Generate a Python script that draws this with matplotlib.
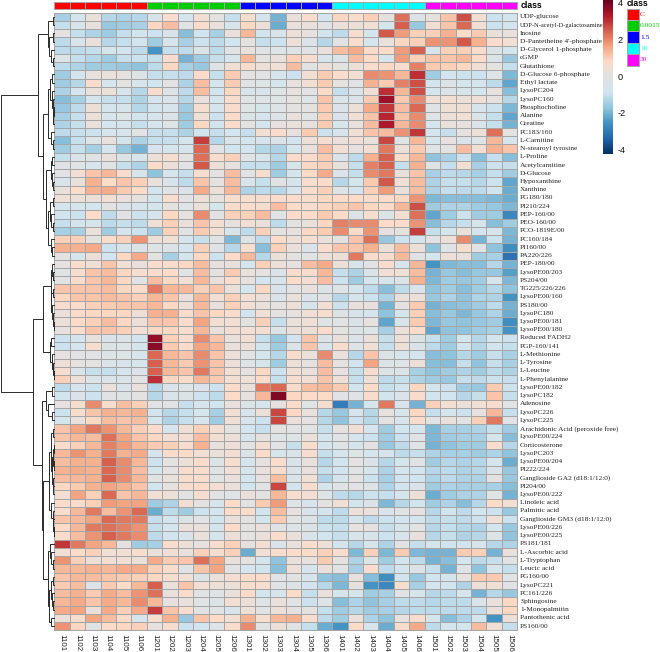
import matplotlib
matplotlib.use("Agg")
import matplotlib.pyplot as plt
from matplotlib.colors import LinearSegmentedColormap, ListedColormap
import numpy as np

row_labels = ["UDP-glucose","UDP-N-acetyl-D-galactosamine","Inosine","D-Pantetheine 4'-phosphate","D-Glycerol 1-phosphate","cGMP","Glutathione","D-Glucose 6-phosphate","Ethyl lactate","LysoPC204","LysoPC160","Phosphocholine","Alanine","Creatine","PC183/160","L-Carnitine","N-stearoyl tyrosine","L-Proline","Acetylcarnitine","D-Glucose","Hypoxanthine","Xanthine","PG180/180","PI210/224","PEP-160/00","PEO-160/00","PCO-1819E/00","PC160/184","PI160/00","PA220/226","PEP-180/00","LysoPE00/203","PS204/00","TG225/226/226","LysoPE00/160","PS180/00","LysoPC180","LysoPE00/181","LysoPE00/180","Reduced FADH2","PGP-160/141","L-Methionine","L-Tyrosine","L-Leucine","L-Phenylalanine","LysoPE00/182","LysoPC182","Adenosine","LysoPC226","LysoPC225","Arachidonic Acid (peroxide free)","LysoPE00/224","Corticosterone","LysoPC203","LysoPE00/204","PI222/224","Ganglioside GA2 (d18:1/12:0)","PI204/00","LysoPE00/222","Linoleic acid","Palmitic acid","Ganglioside GM3 (d18:1/12:0)","LysoPE00/226","LysoPE00/225","PS181/181","L-Ascorbic acid","L-Tryptophan","Leucic acid","PG160/00","LysoPC221","PC161/226","Sphingosine","1-Monopalmitin","Pantothenic acid","PS160/00"]
col_labels = ["1101","1102","1103","1104","1105","1106","1201","1202","1203","1204","1205","1206","1301","1302","1303","1304","1305","1306","1401","1402","1403","1404","1405","1406","1501","1502","1503","1504","1505","1506"]
class_names = ["C","0.0015","1.5","10","30"]
class_colors = ["#FF0000","#00CD00","#0000FF","#00FFFF","#FF00FF"]
col_class = [0]*6+[1]*6+[2]*6+[3]*6+[4]*6

values = [
[-1.4,-0.7,0.2,-1.2,-1.3,-1.2,-0.4,0.7,-0.7,0.5,0.0,-1.0,0.6,-0.7,-2.0,0.2,0.7,-0.7,0.9,0.6,1.0,0.1,2.3,-0.3,0.1,1.2,2.7,0.5,-0.9,-0.7],
[-1.0,-0.5,0.2,-1.6,-1.5,-1.4,0.9,1.3,-0.1,0.7,0.2,-0.5,0.9,0.3,-2.1,0.2,0.2,-0.1,0.3,0.3,0.4,-0.6,2.5,-1.6,0.5,1.2,2.4,0.5,-0.9,-0.8],
[0.0,-1.0,-1.3,-1.5,-1.0,-0.8,-0.9,-0.4,-1.8,-0.8,-1.4,0.2,1.4,-0.8,-0.4,0.3,0.1,-0.8,-1.1,0.6,-0.7,2.6,1.8,1.0,1.0,1.5,0.8,1.1,0.2,0.2],
[-1.1,-0.5,0.2,-1.2,-1.0,-0.8,-1.5,-0.6,-1.4,-0.9,-1.1,-0.8,0.1,-1.0,-0.9,0.3,-0.4,-1.2,-0.1,0.7,-0.7,0.2,0.9,1.0,1.9,1.9,2.6,1.5,0.7,0.5],
[-1.1,-1.1,-1.0,-0.6,-0.8,-1.1,-2.5,-1.0,-1.1,-0.3,-1.1,-0.1,0.2,-0.1,-0.2,-0.2,-0.2,0.2,1.3,1.6,0.8,0.8,1.8,2.5,-0.6,1.0,1.0,0.7,-0.3,-0.6],
[-0.2,-1.0,-1.2,-1.5,-1.0,-0.9,-1.0,0.7,-2.0,-1.5,-1.0,-0.6,1.4,0.0,0.2,1.0,0.6,-0.5,-0.3,1.3,0.8,-0.6,1.8,1.0,1.2,1.2,1.4,0.8,-0.3,-1.6],
[-1.1,-1.3,-1.5,-1.5,-1.6,-1.7,-1.1,0.9,-1.4,-1.6,-0.2,0.4,0.7,0.3,0.4,1.3,-0.1,0.3,0.0,0.3,0.6,0.9,0.6,2.1,1.1,1.0,0.9,0.4,0.0,-1.0],
[-1.5,-0.8,0.1,0.2,0.1,-0.3,-1.0,-1.0,-1.1,0.8,-1.0,1.1,0.0,-0.1,-0.6,-0.9,0.5,1.1,0.7,0.5,2.0,1.9,1.4,3.1,-1.5,-0.8,-0.9,-0.9,-0.2,-1.9],
[-1.5,-1.2,0.7,-0.7,0.0,-0.6,-0.8,-0.1,-1.3,1.3,-0.7,1.1,-0.1,-0.2,-0.6,0.1,0.5,1.1,0.1,-0.1,1.5,1.1,2.1,2.7,-0.8,-0.3,-0.7,-0.7,-1.1,-2.2],
[-1.3,-0.7,0.2,0.3,-0.5,-1.2,0.7,-0.3,-1.1,1.3,-0.8,0.9,-0.5,-0.4,-0.2,0.1,-0.1,0.8,-1.0,-0.4,0.4,3.1,1.4,2.7,-0.7,-0.3,-0.6,-0.7,0.1,-1.8],
[-1.8,-1.4,-0.7,-1.0,-1.0,-1.3,-0.5,-0.4,-1.2,0.2,-0.7,0.7,-0.2,-0.2,-0.2,0.1,-0.2,1.2,-0.4,-0.4,1.1,3.6,1.1,2.0,0.4,0.5,0.3,0.4,0.1,-1.2],
[-1.6,-1.1,0.3,-0.7,-0.6,-1.2,-0.8,-0.5,-1.5,0.6,-0.7,0.7,-0.2,-0.6,-0.2,0.1,0.0,1.1,-0.4,0.3,1.6,3.0,1.3,2.4,-0.2,0.4,0.5,-0.6,-0.9,-1.9],
[-1.4,-1.0,0.3,-0.5,-0.2,-0.8,-0.6,-0.3,-1.6,0.4,-0.9,0.8,-0.3,-0.7,-0.3,0.2,-0.1,1.0,-0.4,0.4,1.2,3.2,1.2,2.0,-0.2,0.3,0.5,-0.3,-1.0,-2.2],
[-1.3,-1.0,0.2,-0.7,-0.6,-1.0,-0.6,-0.2,-1.5,0.9,-0.8,0.8,0.0,-0.7,0.1,0.2,0.1,1.1,-0.6,0.2,1.3,3.4,1.4,2.0,-0.7,0.2,0.1,-0.4,-1.0,-2.0],
[-1.1,-1.0,-0.9,-0.6,-0.5,-0.1,-1.0,-1.0,-1.3,-0.8,-1.0,-0.7,-1.0,0.5,0.7,0.1,1.1,-0.9,-0.5,0.4,1.2,1.3,1.9,3.0,-0.7,-1.0,0.1,0.3,2.3,0.0],
[-1.8,-1.0,-0.2,0.2,-0.8,-1.3,-1.0,-1.0,-0.7,2.9,-1.2,-0.4,-0.8,-0.6,-0.3,-0.8,0.3,0.6,0.2,0.5,0.2,2.8,-0.1,1.4,-0.6,0.1,-0.4,-0.2,1.4,-0.5],
[-1.5,-1.0,-1.4,-0.6,-1.6,-2.0,-0.5,-0.7,-0.6,2.4,-0.1,-0.8,-0.8,-1.2,-1.3,-0.7,0.2,1.3,0.5,0.1,0.5,2.2,0.3,1.1,-0.2,0.0,1.3,0.4,1.5,1.2],
[-1.0,-0.4,-0.1,0.2,-0.3,-0.6,0.3,0.6,0.0,2.3,0.6,1.0,-0.2,-0.5,-1.2,0.8,0.7,1.1,-0.4,-1.1,1.5,2.5,0.7,1.4,-1.7,-1.4,-0.9,-1.8,-1.0,-1.8],
[-0.1,-0.2,-0.6,-0.1,-1.0,-1.3,0.8,0.3,-0.1,2.6,0.3,0.1,-1.0,-1.0,-1.5,-0.6,0.9,1.0,0.2,-1.0,2.1,2.5,-1.0,1.5,-0.2,-1.0,0.5,-1.4,-0.9,-1.0],
[-0.1,0.5,1.2,1.4,0.7,-0.7,-1.7,-0.6,-1.0,0.6,0.0,1.3,-0.1,0.6,-1.5,-0.7,0.8,1.6,-0.4,-1.0,2.0,2.2,0.2,1.2,-1.4,-1.1,-1.2,-1.4,-1.0,-1.5],
[-0.5,0.2,1.5,0.8,1.2,1.0,0.2,-0.5,-1.1,1.2,0.0,1.3,-0.5,-1.0,-0.1,-0.6,0.6,0.8,-1.2,-0.6,1.1,2.6,0.4,1.3,-1.3,-1.0,-1.0,-1.2,-0.9,-2.2],
[0.2,0.8,1.5,1.6,1.1,0.8,-0.8,-0.1,-0.3,1.6,0.3,1.4,-1.3,-1.1,-1.2,-0.6,0.7,1.0,-0.2,-0.7,1.0,1.8,0.2,1.3,-1.3,-1.0,-1.1,-1.1,-0.8,-2.1],
[0.4,0.3,0.3,0.5,0.2,0.1,-0.7,0.7,-0.1,0.3,0.1,0.6,0.6,0.6,0.7,0.8,0.7,0.9,0.8,0.8,0.7,0.8,0.9,1.9,-1.9,-1.8,-1.8,-1.8,-1.9,-2.1],
[-0.7,-0.6,-0.7,0.0,-0.4,-0.5,-0.7,0.0,-0.2,0.2,-0.6,0.7,0.7,0.6,1.3,0.8,0.6,0.9,1.0,1.2,0.9,0.8,1.4,2.7,-1.5,-1.3,-1.3,-1.5,-1.6,-1.9],
[-0.8,-0.9,0.8,-1.1,-0.1,-0.9,-0.6,0.9,0.1,2.0,-0.1,1.0,1.0,1.3,-0.2,0.8,0.8,1.1,0.8,-0.3,0.6,-0.3,0.5,2.3,-2.2,-1.5,-0.9,-1.5,-1.5,-2.7],
[-1.0,-0.7,-0.6,-1.1,-1.0,-1.1,0.4,1.0,0.2,1.2,0.5,0.1,0.5,0.2,-1.1,0.0,0.2,0.9,2.1,2.0,2.0,0.8,0.8,1.9,-1.8,-1.2,-1.0,-0.6,-1.8,-1.5],
[-1.4,-1.4,0.2,-1.5,-0.5,-0.9,-1.5,1.0,-0.1,1.1,0.5,-0.5,-1.1,1.0,0.0,0.1,0.9,1.1,2.0,0.8,1.9,0.1,0.1,2.9,-1.0,-0.7,0.2,-0.7,-0.5,-1.9],
[1.0,1.0,0.0,0.8,1.0,1.9,0.3,0.4,-0.7,-1.0,-0.1,-1.9,-0.3,-1.1,0.8,0.3,0.6,0.2,0.0,1.2,2.3,-1.6,-0.9,-0.7,-0.1,0.3,2.0,-2.0,-0.9,-2.0],
[1.5,1.5,1.6,-0.9,-0.6,-0.3,-0.2,-0.3,-0.7,1.0,-0.1,-1.2,0.6,-1.8,1.0,0.2,-0.4,0.7,1.2,1.2,1.5,0.3,1.3,0.3,-1.7,-0.2,0.6,-0.1,-1.7,-2.6],
[0.0,-0.6,0.3,-0.8,0.9,1.6,0.0,-1.4,-0.7,0.9,-0.9,0.8,1.4,-1.2,0.3,0.0,-0.1,0.3,0.3,2.2,0.7,0.7,1.4,-0.1,-0.7,0.3,0.2,-1.5,-1.4,-3.1],
[0.1,0.7,0.4,1.2,0.4,0.2,0.7,0.7,0.9,1.3,0.1,0.2,-0.7,1.0,0.3,0.1,1.3,1.6,0.3,-0.6,-0.1,0.7,-0.5,1.4,-2.5,-1.9,-1.8,-1.8,-1.2,-2.0],
[-0.2,0.6,1.2,1.3,0.9,0.6,0.7,0.8,-0.1,1.3,0.0,1.1,0.2,0.0,-0.4,0.7,0.7,1.4,-1.0,-1.3,-0.3,0.4,0.4,1.3,-2.0,-1.6,-1.8,-1.6,-1.6,-2.3],
[-0.1,0.7,1.2,1.4,0.9,-0.1,1.3,0.9,0.4,1.4,0.2,0.7,0.1,-0.7,-0.5,0.8,0.5,1.3,-0.9,-1.5,-0.7,-0.6,-0.3,1.5,-1.9,-1.5,-1.6,-1.5,-0.6,-1.9],
[1.2,1.2,1.2,1.3,0.9,0.8,2.2,1.4,1.4,1.0,1.2,0.2,-0.7,0.9,-0.5,-0.1,0.2,-0.3,-0.2,-0.7,-1.1,-1.8,-1.1,-0.4,-1.7,-1.5,-1.8,-1.5,-1.2,-1.7],
[0.9,1.2,1.2,1.3,1.2,1.0,1.4,1.2,0.2,1.4,0.4,1.0,0.5,0.3,-0.4,0.2,-0.4,-0.1,-1.2,-0.6,-0.9,-1.3,0.2,0.3,-1.6,-1.3,-1.7,-1.3,-1.3,-2.5],
[0.6,0.7,1.0,1.1,1.2,1.2,1.4,0.9,0.3,1.4,0.2,1.0,0.5,0.2,0.0,0.3,-0.6,0.5,-0.9,0.2,0.2,-2.0,0.0,1.1,-2.0,-1.8,-1.7,-1.5,-1.1,-2.0],
[0.2,0.8,0.9,0.9,0.9,0.3,1.5,1.5,0.7,1.2,0.9,0.7,-0.8,0.4,0.1,0.1,0.5,0.6,-0.3,-0.6,-0.7,-1.7,-0.6,1.0,-1.8,-1.6,-1.9,-1.6,-1.3,-2.1],
[0.3,0.8,1.0,1.3,0.9,0.3,1.2,1.2,0.7,1.7,0.5,0.5,0.0,1.0,-1.0,0.2,0.4,-0.2,-0.1,-0.4,0.1,-2.2,-0.6,1.1,-1.9,-1.6,-1.7,-1.6,-1.5,-2.6],
[0.1,0.7,1.2,1.2,1.0,0.5,0.9,0.9,0.6,1.4,0.2,0.5,0.5,0.5,-0.3,0.3,0.3,0.8,0.0,-0.3,-0.2,-1.4,0.3,0.8,-2.2,-1.7,-1.7,-1.5,-1.4,-2.5],
[-0.9,-0.7,0.1,-0.4,-0.3,-0.8,3.7,1.0,0.6,2.0,1.2,0.2,0.5,-1.0,-1.6,-0.8,1.2,-0.3,0.2,-0.4,0.3,-1.0,0.3,-0.3,-1.0,-1.5,-0.7,-1.2,-0.7,-0.9],
[-0.9,-0.7,0.6,-0.3,-0.2,-0.7,3.8,1.1,0.7,1.7,1.4,0.2,0.3,-0.8,-1.5,-0.3,1.2,-0.5,0.6,-0.2,0.4,-1.0,0.3,-0.4,-1.1,-1.5,-0.8,-1.2,-0.8,-1.0],
[0.1,-0.1,-0.1,-0.3,-0.2,-0.6,2.4,1.4,1.2,2.0,1.2,0.3,-0.1,-0.7,-1.2,0.7,0.2,2.0,0.2,-1.2,1.2,-0.3,-0.6,-0.7,-1.8,-1.7,-1.2,-1.5,-1.0,-1.4],
[0.3,0.1,0.0,-0.4,-0.5,-0.6,2.5,1.4,1.1,1.9,1.2,0.3,-0.2,-0.6,-1.5,0.3,0.1,1.3,0.1,-0.8,1.7,-0.3,-0.2,0.3,-1.8,-1.8,-1.0,-1.7,-1.0,-1.4],
[0.6,-0.4,-1.0,-1.0,-0.7,-0.4,2.5,1.4,1.2,2.2,1.2,0.5,0.1,0.9,-0.9,0.5,0.2,1.3,0.1,-1.0,0.6,-0.3,-0.3,-1.4,-1.7,-1.5,-1.3,-1.5,-1.1,-1.3],
[1.0,0.3,-0.3,-0.4,-0.4,-0.1,3.1,0.9,0.8,1.4,1.1,0.5,0.4,0.8,-1.0,0.6,0.4,1.2,0.4,-1.0,0.4,-1.1,-1.0,-1.3,-1.5,-1.6,-1.0,-1.1,-0.9,-1.0],
[-1.1,-0.5,-0.9,0.2,-0.4,0.2,-1.2,-0.4,-0.2,-0.4,-0.9,0.8,0.2,2.2,2.4,0.7,1.3,1.4,1.1,-0.8,0.8,-1.0,-0.8,0.9,-0.7,-0.9,-1.5,-1.6,1.1,-0.9],
[-0.8,-0.4,-0.9,-0.1,-0.3,0.0,-1.2,-0.4,-0.3,-0.9,-1.1,0.8,0.1,1.4,3.9,0.9,0.8,0.8,-0.1,-0.2,0.7,-0.8,-0.4,0.7,-0.8,-0.8,-1.2,-1.0,1.2,-1.0],
[0.1,0.6,2.0,0.7,1.3,1.0,-0.1,-0.1,-1.0,-0.6,-0.8,0.2,-0.3,-0.5,0.1,0.8,-0.2,0.6,-2.9,-2.0,-0.6,2.2,-0.5,-2.0,1.0,0.5,0.3,0.5,0.7,-0.1],
[-0.9,0.6,1.2,1.5,1.4,1.5,-0.8,-1.2,-1.0,-0.7,-1.4,0.5,-0.5,0.3,2.8,0.9,0.2,-1.2,-1.6,-0.7,-1.2,0.1,-0.6,0.9,-1.0,-0.7,-0.9,0.1,1.4,-1.0],
[-0.7,0.2,0.9,1.3,1.2,1.3,-0.7,-1.3,-1.0,-0.6,-1.5,0.4,-0.5,-0.9,2.8,0.2,0.0,-1.2,-1.7,-0.9,-1.2,0.0,-0.5,0.7,-0.1,0.2,-0.1,1.0,2.2,-0.2],
[1.2,1.7,2.2,1.9,1.4,1.0,0.7,-0.7,0.4,1.0,0.5,0.0,-0.8,-1.0,0.0,-0.1,-0.1,-1.0,0.0,0.5,-0.7,-1.5,-0.8,-0.7,-1.9,-1.4,-1.4,-1.3,-1.0,-1.5],
[1.2,1.4,1.3,2.3,1.7,1.2,0.9,0.5,0.5,1.3,0.5,0.3,-0.6,0.1,-0.2,-0.2,0.2,-0.7,-0.1,-0.7,-0.9,-1.5,-0.9,-0.2,-1.9,-1.5,-1.4,-1.4,-0.6,-1.8],
[0.7,1.0,1.4,2.1,1.8,1.4,1.1,1.0,0.6,1.5,0.1,0.3,-0.1,0.5,-0.1,-1.0,0.7,-0.7,-0.2,-0.6,0.0,-1.6,-1.1,-0.2,-2.0,-1.7,-1.5,-1.5,0.7,-1.2],
[1.4,1.9,1.5,2.2,1.5,1.6,-0.6,0.7,0.8,0.5,0.2,0.5,-0.3,0.8,-0.6,-0.4,0.6,-1.0,-0.7,-0.2,-0.7,-0.5,-1.1,-1.0,-1.3,-1.4,-1.4,-1.5,-1.3,-1.7],
[1.3,1.5,1.5,2.5,2.0,1.4,-0.9,0.0,0.3,0.8,-0.3,0.6,-0.7,0.1,0.7,-0.4,0.2,-1.2,-0.8,0.0,-0.4,-1.2,-0.7,-0.1,-1.5,-1.2,-1.3,-1.2,-0.7,-2.1],
[1.5,1.6,1.5,2.4,2.0,1.3,-0.7,0.0,0.6,0.7,-0.2,0.4,-0.6,0.2,0.6,-0.4,0.2,-1.0,-0.8,-0.1,-0.7,-1.3,-0.7,-0.8,-1.2,-1.1,-1.3,-1.2,-0.4,-1.6],
[1.3,1.4,1.5,2.5,2.0,1.4,-0.1,0.2,0.6,0.7,-0.2,0.2,-0.7,0.1,1.3,-0.4,0.4,-1.3,-0.6,0.0,-0.9,-1.4,-0.8,-0.8,-1.3,-1.1,-1.3,-1.3,0.0,-1.6],
[0.9,1.1,1.5,1.7,1.5,1.2,-0.8,0.1,0.6,0.8,0.5,0.2,-0.8,-0.1,2.8,-0.8,0.6,-0.6,-0.1,-0.1,-0.2,-1.3,-0.8,-0.4,-1.5,-1.3,-1.4,-1.4,-1.4,-1.8],
[0.5,1.7,1.0,2.4,1.2,1.4,0.4,0.3,-0.1,0.6,-0.1,-0.2,0.2,0.0,1.4,0.6,0.5,-0.2,-1.1,-1.2,-0.9,-1.0,-0.7,0.3,-2.1,-1.5,-1.3,-1.3,-0.2,-2.0],
[0.7,0.7,1.0,1.8,1.7,1.7,-1.5,-1.3,0.5,0.0,-0.5,0.8,-0.1,1.1,1.8,-0.2,-0.5,0.0,0.4,-0.8,-0.3,-1.9,-1.2,-0.8,-1.5,-1.3,-1.8,-1.2,0.8,0.5],
[0.7,1.4,2.2,1.3,1.9,2.4,-2.1,-1.1,-1.5,-0.9,-0.7,0.8,0.7,-0.8,1.3,0.1,-0.5,-0.7,-1.1,0.3,0.2,-0.4,-0.1,0.1,-1.2,-0.8,-1.1,-0.7,-0.9,-1.6],
[1.2,1.4,1.7,2.4,2.2,2.2,-1.0,-0.8,-0.3,-0.1,-0.8,0.2,0.0,-0.7,1.1,-0.1,-0.3,-1.1,-1.1,-0.8,-1.1,-0.9,-0.8,-0.7,-1.1,-1.0,-1.1,-0.9,0.4,-0.9],
[0.8,1.4,2.2,2.3,2.1,1.9,-1.0,-0.7,0.2,0.2,-0.8,0.8,0.0,0.2,-0.1,-0.2,-0.3,-0.9,-1.0,0.1,0.1,-1.0,-0.6,-0.1,-1.2,-1.0,-1.2,-1.3,-0.7,-1.6],
[0.7,1.3,1.9,2.5,2.2,2.0,-1.1,-0.8,-0.4,0.2,-0.7,0.3,0.0,0.2,0.7,0.2,-0.4,-0.8,-1.0,-0.5,-0.5,-0.9,-0.5,0.2,-1.2,-1.0,-1.3,-1.2,-0.2,-1.7],
[3.0,2.2,1.7,1.4,0.1,-1.5,-1.4,0.7,0.3,0.1,0.7,1.0,0.1,0.5,-0.4,0.2,0.7,0.3,-0.8,-1.2,-0.5,-1.3,-0.1,-1.0,-0.6,-0.8,-0.8,-0.6,-1.2,-1.3],
[0.5,0.8,1.0,0.4,0.5,0.6,0.2,0.5,0.2,1.0,0.6,1.0,-2.1,0.4,0.7,0.8,0.8,1.0,0.7,-1.9,1.0,-1.9,1.1,-1.9,-2.0,-2.0,1.1,1.0,-2.0,0.2],
[1.9,1.0,0.3,0.5,0.4,0.3,1.6,1.1,1.2,2.3,1.7,0.2,0.0,-0.7,-1.7,0.2,0.1,1.1,0.0,-1.3,-0.2,-1.5,-0.7,-1.1,-2.0,-1.8,-0.7,-1.1,-1.0,-0.1],
[1.4,1.4,1.5,1.4,1.6,1.6,1.0,0.7,-0.1,1.2,1.7,-0.1,-0.7,-0.8,-1.8,0.3,-0.5,0.2,-0.1,-1.4,0.7,-1.1,-0.7,-0.3,-1.0,-2.0,-0.2,-1.7,-0.6,-1.0],
[1.2,1.4,1.3,1.2,1.1,1.0,0.9,0.6,0.4,-0.3,0.2,0.5,0.8,0.7,-0.2,-0.1,-0.5,-1.7,-1.8,0.1,-1.8,-2.6,-0.8,-1.6,-0.8,-0.6,0.1,1.1,1.1,-0.2],
[1.1,1.3,-0.3,1.1,0.8,1.4,2.5,0.2,1.2,0.5,0.3,0.3,0.7,0.6,-0.2,-0.3,-0.8,-1.2,-1.9,0.1,-2.5,-2.7,0.6,-1.4,-0.6,-0.8,-1.3,0.3,0.4,-0.1],
[1.3,1.5,1.1,1.6,1.3,1.9,2.3,0.2,0.7,-0.1,-0.2,0.2,0.8,-0.7,-0.6,0.8,-1.0,0.2,-0.7,-0.6,-1.5,-1.4,-0.1,-0.6,-1.2,-1.1,-0.7,-2.0,-1.2,-1.6],
[1.4,1.6,1.2,1.6,1.4,2.0,1.4,0.1,0.2,-0.1,-0.3,0.5,0.3,-0.2,0.2,-0.1,-0.9,-0.2,-1.8,-1.3,-1.7,-1.4,-1.1,-1.1,-1.2,-1.1,-1.1,-0.4,0.2,0.9],
[1.6,1.7,0.3,1.6,1.0,1.6,2.9,1.2,0.7,-0.1,-0.1,-0.5,0.4,-0.1,0.3,0.0,0.0,-1.0,-1.5,-1.2,-1.5,-1.4,-1.2,-1.1,-1.1,-1.1,-1.1,-1.1,0.3,0.9],
[0.3,0.7,1.7,1.3,0.8,-0.5,0.6,1.5,-1.6,1.2,0.8,0.5,1.5,0.6,1.4,1.5,0.6,-1.1,-1.5,0.2,-1.3,-1.7,0.1,0.7,-0.6,-1.8,-1.3,-0.6,-2.5,0.3],
[1.9,0.9,-0.1,0.8,0.9,1.0,0.1,0.6,-0.9,-0.8,-0.2,0.7,2.0,-0.1,0.3,-0.1,-1.0,-2.1,-2.5,0.8,-0.6,-2.1,0.7,1.6,-1.1,-0.7,-0.7,1.3,0.4,-1.0],
]

# merge tree: (merge height, upper child, lower child); integers are row numbers
tree_top = (16.0,
    (6.5, (1.5, 0, 1), (5.5, (1.5, 2, 3), (3.0, 4, (1.5, 5, 6)))),
    (11.0,
        (6.7, (4.5, (2.0, 7, 8), (2.5, 9, (1.5, 10, (1.0, (0.6, 11, 12), 13)))),
              (3.5, 14, (1.5, 15, 16))),
        (8.0, (3.5, (2.0, 17, 18), (2.5, 19, (1.2, 20, 21))),
              (6.0, (4.5, (1.5, 22, 23), (3.0, 24, (1.5, 25, 26))), (3.5, 27, (2.0, 28, 29))))))
tree_c = (11.3,
    (3.8, (2.8, 30, (1.8, 31, 32)), (3.0, (1.5, 33, 34), (2.0, 35, (1.2, 36, (0.8, 37, 38))))),
    (4.5, (3.0, 39, 40), (2.2, 41, (1.2, 42, (0.8, 43, 44)))))
tree_e = (8.0, (2.2, 45, 46), (6.5, 47, (2.5, 48, 49)))
tree_g = (5.0,
    (3.5, (1.8, 50, 51), (2.5, (1.2, (0.6, 52, 53), (0.5, 54, 55)), (1.5, 56, (1.0, 57, 58)))),
    (3.0, 59, (1.8, 60, (1.2, 61, (0.8, 62, 63)))))
tree_h = (6.7,
    (4.7, 64, (3.0, 65, (1.8, 66, 67))),
    (5.0, (3.5, (1.8, 68, 69), (2.5, 70, (1.2, 71, 72))), (3.0, 73, 74)))
tree = (53.0, tree_top, (21.0, tree_c, (12.0, tree_e, (11.0, tree_g, tree_h))))

W, H = 660, 652
plt.rcParams['font.family'] = ['Liberation Sans', 'DejaVu Sans']
fig = plt.figure(figsize=(W / 100, H / 100), dpi=100, facecolor='white')

def px_axes(x0, y0, x1, y1):
    ax = fig.add_axes([x0 / W, 1 - y1 / H, (x1 - x0) / W, (y1 - y0) / H])
    ax.set_xticks([]); ax.set_yticks([])
    for s in ax.spines.values():
        s.set_visible(False)
    return ax

GRID = '#a6a6a6'
LW = 0.55
stops = ['#053061', '#2166ac', '#4393c3', '#92c5de', '#d1e5f0', '#e2e2e2',
         '#fddbc7', '#f4a582', '#d6604d', '#b2182b', '#67001f']
cmap = LinearSegmentedColormap.from_list('rb', stops, N=256)
V = 4.2

data = np.array(values)
HX0, HX1, HY0, HY1 = 54.3, 517.3, 12.7, 630.3

ax = px_axes(HX0, HY0, HX1, HY1)
mesh = ax.pcolormesh(data, cmap=cmap, vmin=-V, vmax=V, edgecolors=GRID, linewidth=LW)
ax.set_xlim(0, data.shape[1]); ax.set_ylim(data.shape[0], 0)
for s in ax.spines.values():
    s.set_visible(True); s.set_color(GRID); s.set_linewidth(LW + 0.2)

for i, name in enumerate(row_labels):
    size = 4.65 if name.startswith('UDP-N') else 5.35
    ax.text(data.shape[1] + 0.18, i + 0.5, name, family='Liberation Serif', fontsize=size,
            color='#222222', va='center', ha='left', clip_on=False)
for j, name in enumerate(col_labels):
    ax.text(j + 0.5, data.shape[0] + 0.42, name, fontsize=5.8, color='#222222',
            rotation=270, va='top', ha='center', clip_on=False)

# column annotation
ax_top = px_axes(HX0, 1.7, HX1, 9.2)
class_cmap = ListedColormap(class_colors)
ax_top.pcolormesh(np.array([col_class]), cmap=class_cmap, vmin=-0.5, vmax=4.5,
                  edgecolors=GRID, linewidth=LW)
for s in ax_top.spines.values():
    s.set_visible(True); s.set_color(GRID); s.set_linewidth(LW + 0.2)
fig.text(520.5 / W, 1 - 5.5 / H, 'class', fontsize=6.2, fontweight='bold', va='center', ha='left')

# dendrogram
ax_d = px_axes(0, HY0, HX0, HY1)
ax_d.set_xlim(HX0, 0); ax_d.set_ylim(data.shape[0], 0)
def draw(node):
    if isinstance(node, int):
        return 0.0, node + 0.5
    h, a, b = node
    ha, ya = draw(a)
    hb, yb = draw(b)
    ax_d.plot([ha, h, h, hb], [ya, ya, yb, yb], color='#2a2a2a', lw=0.7,
              solid_joinstyle='miter', clip_on=False)
    return h, (ya + yb) / 2
draw(tree)

# colour bar
cax = px_axes(603.3, 0.3, 613.3, 154)
grad = np.linspace(V, -V, 256).reshape(-1, 1)
cax.imshow(grad, aspect='auto', cmap=cmap, vmin=-V, vmax=V, extent=[0, 1, -V, V])
for t in [4, 2, 0, -2, -4]:
    cax.text(1.42, t, str(t), fontsize=6.6, va='center', ha='left', clip_on=False, color='#111111')

# class legend
fig.text(627 / W, 1 - 4.0 / H, 'class', fontsize=6.2, fontweight='bold', va='center', ha='left')
ax_l = px_axes(626.7, 8.5, 638.7, 65.7)
ax_l.pcolormesh(np.arange(5).reshape(-1, 1), cmap=class_cmap, vmin=-0.5, vmax=4.5,
                edgecolors=GRID, linewidth=LW)
ax_l.set_ylim(5, 0)
for s in ax_l.spines.values():
    s.set_visible(True); s.set_color(GRID); s.set_linewidth(LW + 0.2)
for i, name in enumerate(class_names):
    ax_l.text(1.1, i + 0.5, name, family='Liberation Serif', fontsize=5.4, color=class_colors[i],
              va='center', ha='left', clip_on=False)

fig.savefig('out.png', dpi=100)
